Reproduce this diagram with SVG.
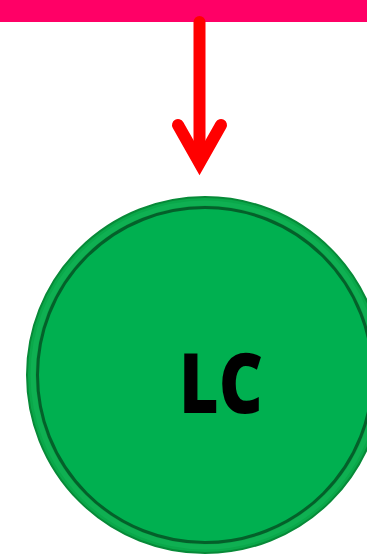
<svg xmlns="http://www.w3.org/2000/svg" width="367" height="556" viewBox="0 0 367 556">
<style>
.lbl{font-family:"Open Sans","Liberation Sans",sans-serif;font-weight:800;font-size:84px;fill:#000}
.conn{stroke:#FF0000;stroke-width:12;fill:none;stroke-linecap:round;stroke-linejoin:miter}
</style>
<rect x="0" y="0" width="367" height="22" fill="#FF0066"/>
<g id="connectors">
<line class="conn" x1="199.5" y1="22" x2="199.5" y2="162" stroke-linecap="butt"/>
<polyline class="conn" points="178,125 199.5,163 221,125"/>
</g>
<g id="node-lc">
<circle cx="205" cy="375" r="178" fill="#0AA84A" stroke="#078A38" stroke-width="2"/>
<circle cx="205" cy="375" r="172" fill="none" stroke="#0FB052" stroke-width="5"/>
<circle cx="205" cy="375" r="167.5" fill="#00B050" stroke="#04602A" stroke-width="3"/>
<text class="lbl" x="179" y="413" textLength="84" lengthAdjust="spacingAndGlyphs">LC</text>
</g>
</svg>
